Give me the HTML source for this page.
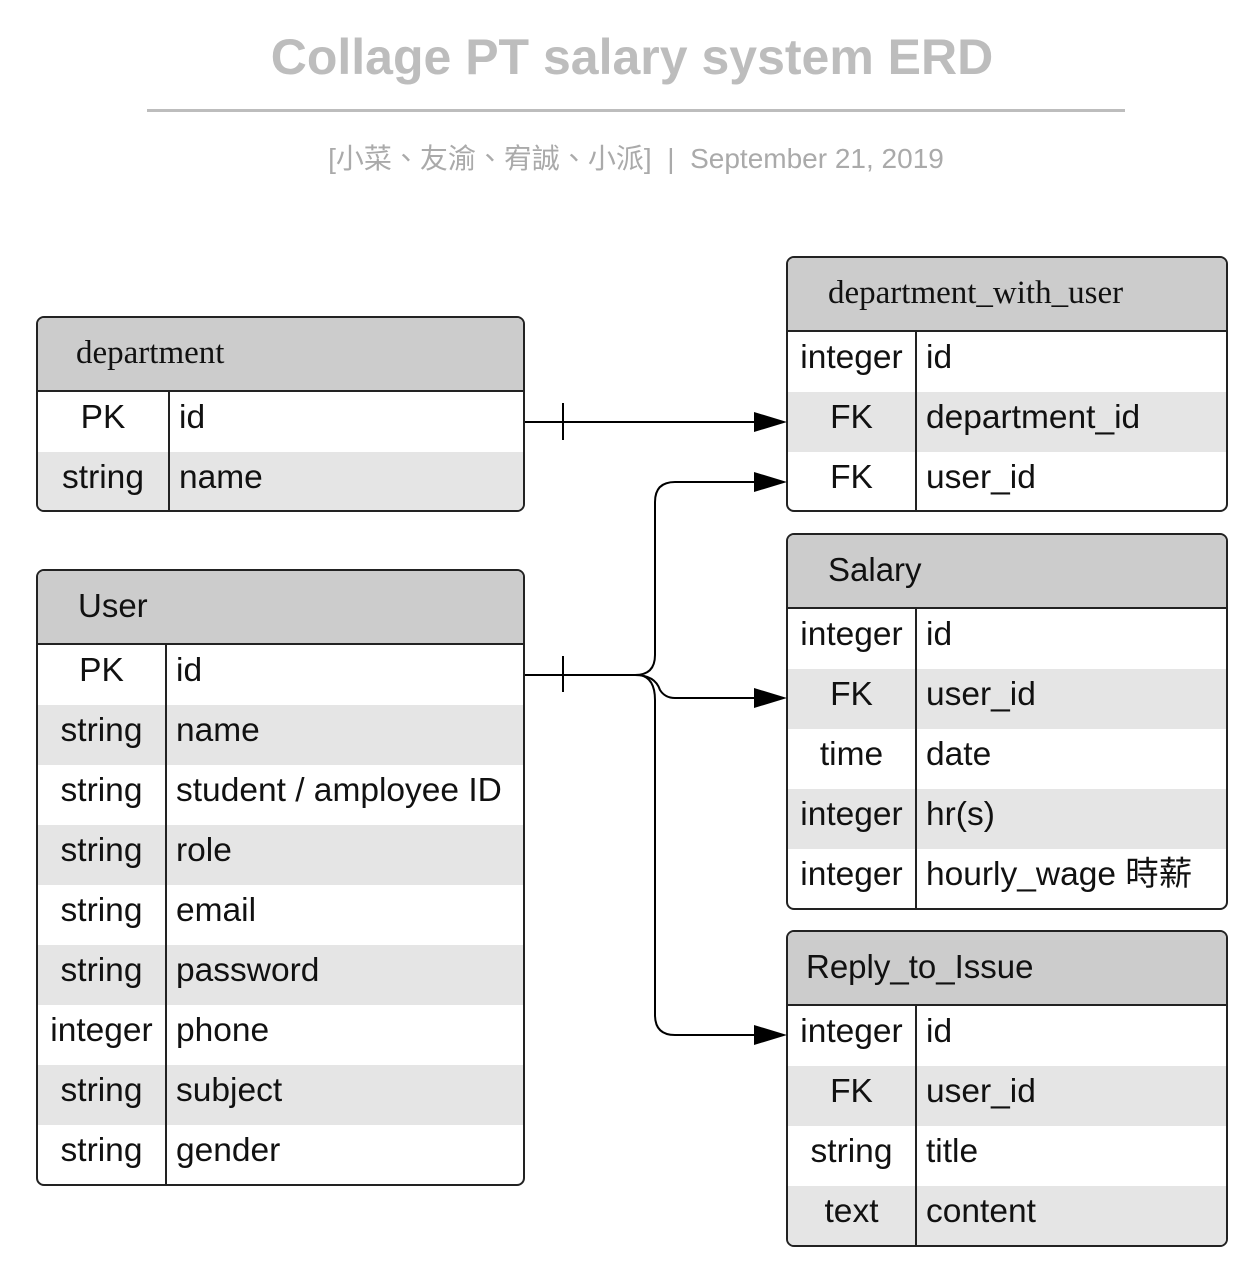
<!DOCTYPE html>
<html><head><meta charset="utf-8"><style>
body{margin:0;width:1258px;height:1277px;background:#fff;position:relative;font-family:"Liberation Sans","Noto Sans CJK TC",sans-serif;overflow:hidden}
.t{position:absolute;border:2px solid #222;border-radius:8px;overflow:hidden;box-sizing:border-box;background:#fff}
.h{background:#ccc;height:74px;border-bottom:2px solid #222;box-sizing:border-box;font-size:33px;line-height:70px;padding-left:38px;color:#111}
.r{height:60px;display:flex;font-size:33.5px;line-height:52px;color:#111;box-sizing:border-box;padding-bottom:8px}
.r.g{background:#e5e5e5}
.r .a{text-align:center;border-right:2px solid #222;box-sizing:border-box;flex:none;height:60px;margin-bottom:-8px}
.r .b{padding-left:9px;white-space:nowrap}
.serif{font-family:"Liberation Serif",serif}
</style></head><body>
<div style="position:absolute;left:0;width:1264px;top:28px;text-align:center;font-size:50px;font-weight:bold;color:#bdbdbd">Collage PT salary system ERD</div>
<div style="position:absolute;left:147px;width:978px;top:109px;height:3px;background:#bdbdbd"></div>
<div style="position:absolute;left:0;width:1272px;top:137px;text-align:center;font-size:28px;color:#aaa">[小菜、友渝、宥誠、小派] &nbsp;|&nbsp; September 21, 2019</div>

<div class="t" style="left:36px;top:316px;width:489px;height:196px">
<div class="h serif" style="padding-left:38px">department</div>
<div class="r"><div class="a" style="width:132px">PK</div><div class="b">id</div></div>
<div class="r g"><div class="a" style="width:132px">string</div><div class="b">name</div></div>
</div>

<div class="t" style="left:36px;top:569px;width:489px;height:617px">
<div class="h" style="padding-left:40px">User</div>
<div class="r"><div class="a" style="width:129px">PK</div><div class="b">id</div></div>
<div class="r g"><div class="a" style="width:129px">string</div><div class="b">name</div></div>
<div class="r"><div class="a" style="width:129px">string</div><div class="b">student / amployee ID</div></div>
<div class="r g"><div class="a" style="width:129px">string</div><div class="b">role</div></div>
<div class="r"><div class="a" style="width:129px">string</div><div class="b">email</div></div>
<div class="r g"><div class="a" style="width:129px">string</div><div class="b">password</div></div>
<div class="r"><div class="a" style="width:129px">integer</div><div class="b">phone</div></div>
<div class="r g"><div class="a" style="width:129px">string</div><div class="b">subject</div></div>
<div class="r"><div class="a" style="width:129px">string</div><div class="b">gender</div></div>
</div>

<div class="t" style="left:786px;top:256px;width:442px;height:256px">
<div class="h serif" style="padding-left:40px">department_with_user</div>
<div class="r"><div class="a" style="width:129px">integer</div><div class="b">id</div></div>
<div class="r g"><div class="a" style="width:129px">FK</div><div class="b">department_id</div></div>
<div class="r"><div class="a" style="width:129px">FK</div><div class="b">user_id</div></div>
</div>

<div class="t" style="left:786px;top:533px;width:442px;height:377px">
<div class="h" style="padding-left:40px">Salary</div>
<div class="r"><div class="a" style="width:129px">integer</div><div class="b">id</div></div>
<div class="r g"><div class="a" style="width:129px">FK</div><div class="b">user_id</div></div>
<div class="r"><div class="a" style="width:129px">time</div><div class="b">date</div></div>
<div class="r g"><div class="a" style="width:129px">integer</div><div class="b">hr(s)</div></div>
<div class="r"><div class="a" style="width:129px">integer</div><div class="b">hourly_wage 時薪</div></div>
</div>

<div class="t" style="left:786px;top:930px;width:442px;height:317px">
<div class="h" style="padding-left:18px">Reply_to_Issue</div>
<div class="r"><div class="a" style="width:129px">integer</div><div class="b">id</div></div>
<div class="r g"><div class="a" style="width:129px">FK</div><div class="b">user_id</div></div>
<div class="r"><div class="a" style="width:129px">string</div><div class="b">title</div></div>
<div class="r g"><div class="a" style="width:129px">text</div><div class="b">content</div></div>
</div>

<svg style="position:absolute;left:0;top:0" width="1258" height="1277">
<g stroke="#000" stroke-width="2" fill="none">
<path d="M525 422H760"/><path d="M563 403V440"/>
<path d="M525 675H635"/><path d="M563 656V692"/>
<path d="M635 675Q655 675 655 655V502Q655 482 675 482H760"/>
<path d="M635 675Q655 675 660 690Q665 698 675 698H760"/>
<path d="M640 675Q655 678 655 700V1015Q655 1035 675 1035H760"/>
</g>
<g fill="#000">
<path d="M754 412L787 422L754 432Z"/>
<path d="M754 472L787 482L754 492Z"/>
<path d="M754 688L787 698L754 708Z"/>
<path d="M754 1025L787 1035L754 1045Z"/>
</g>
</svg>
</body></html>
